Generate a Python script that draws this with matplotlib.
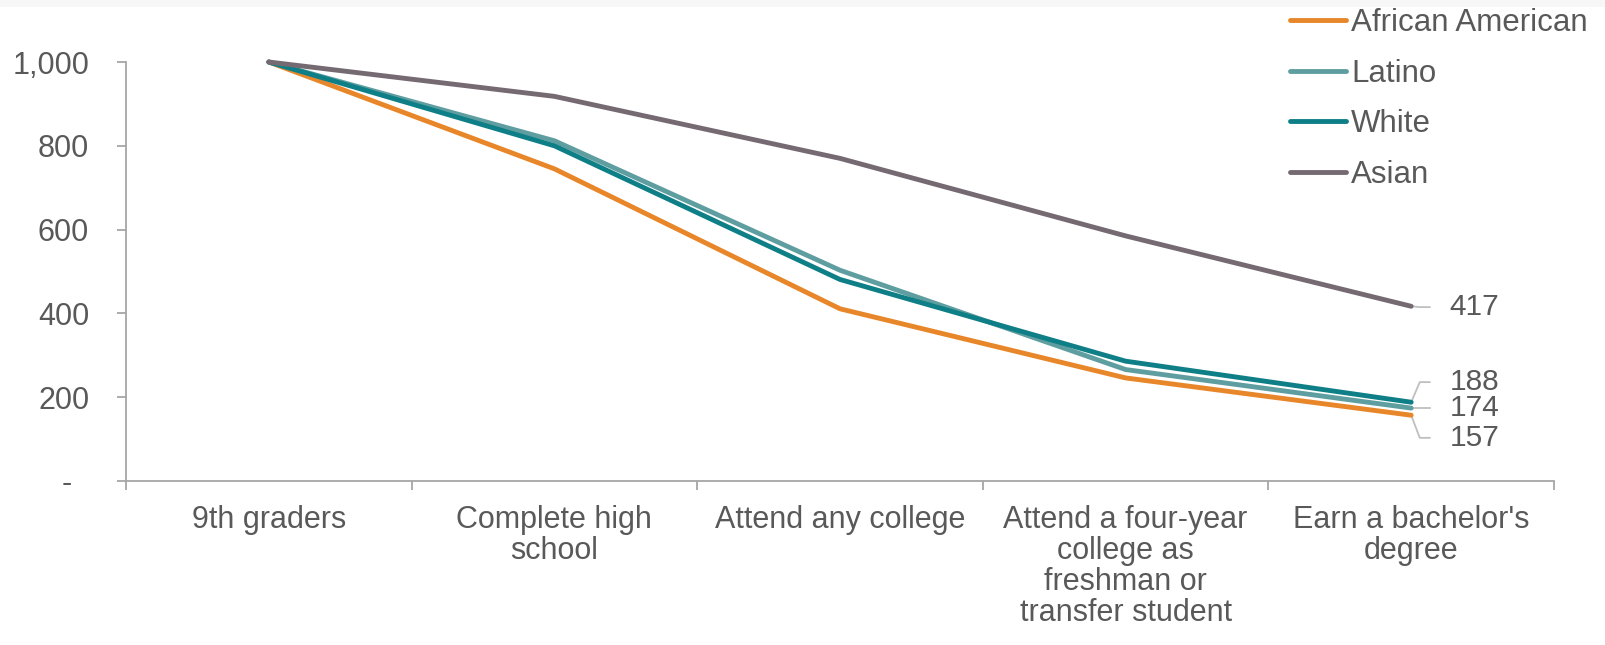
import matplotlib.pyplot as plt
from matplotlib.ticker import FixedLocator
from matplotlib.patches import Rectangle

plt.rcParams['font.family'] = ['Liberation Sans', 'DejaVu Sans']

# Data
stages = ['9th graders', 'Complete high\nschool', 'Attend any college',
          'Attend a four-year\ncollege as\nfreshman or\ntransfer student',
          "Earn a bachelor's\ndegree"]
african_american = [1000, 745, 411, 246, 157]
latino = [1000, 812, 503, 266, 174]
white = [1000, 800, 481, 286, 188]
asian = [1000, 918, 770, 585, 417]

series = [('African American', african_american, '#E8862A'),
          ('Latino', latino, '#5F9EA0'),
          ('White', white, '#0E7F86'),
          ('Asian', asian, '#766A72')]

# where the end labels sit (data units), leaders bend toward these
label_y = {'Asian': 415, 'White': 236, 'Latino': 174, 'African American': 103}

text_col = '#595959'
axis_col = '#A6A6A6'

fig = plt.figure(figsize=(16.06, 6.45), dpi=100)
# faint band along the top edge, as in the source image
fig.patches.append(Rectangle((0, 1 - 7 / 645), 1, 7 / 645, transform=fig.transFigure,
                             facecolor='#F7F7F7', edgecolor='none'))
ax = fig.add_axes([126 / 1606, 1 - 481 / 645, 1428 / 1606, 419 / 645])

x = list(range(len(stages)))
for name, vals, col in series:
    ax.plot(x, vals, color=col, lw=3.5, label=name, clip_on=False,
            solid_capstyle='round')

# end labels with leader lines
last = len(stages) - 1
for name, vals, col in series:
    v = vals[-1]
    ly = label_y[name]
    ax.plot([last, last + 0.03, last + 0.065], [v, ly, ly], color='#BFBFBF',
            lw=1.3, clip_on=False, zorder=1)
    ax.text(last + 0.135, ly, str(v), fontsize=21.5, color=text_col,
            va='center', ha='left')

ax.set_xlim(-0.5, len(stages) - 0.5)
ax.set_ylim(0, 1000)
ax.set_yticks([0, 200, 400, 600, 800, 1000])
# accounting-style zero: dash padded on the right
ax.set_yticklabels(['-  ', '200', '400', '600', '800', '1,000'])
ax.set_xticks(x)
ax.set_xticklabels(stages, linespacing=1.05)
ax.xaxis.set_minor_locator(FixedLocator([i - 0.5 for i in range(len(stages) + 1)]))
ax.tick_params(axis='x', which='major', length=0, pad=17, labelsize=22,
               labelcolor=text_col)
ax.tick_params(axis='x', which='minor', length=6.5, width=1.3, color=axis_col)
ax.tick_params(axis='y', length=6.5, width=1.3, color=axis_col, labelsize=22,
               labelcolor=text_col, pad=20)

for s in ['top', 'right']:
    ax.spines[s].set_visible(False)
for s in ['left', 'bottom']:
    ax.spines[s].set_color(axis_col)
    ax.spines[s].set_linewidth(1.3)

leg = ax.legend(loc='upper left', bbox_to_anchor=(1290 / 1606, 1 - 8 / 645),
                bbox_transform=fig.transFigure, frameon=False, fontsize=22.5,
                handlelength=1.8, handletextpad=0.15, labelspacing=0.66,
                borderpad=0, borderaxespad=0)
for t in leg.get_texts():
    t.set_color(text_col)

fig.savefig('out.png', dpi=100)
